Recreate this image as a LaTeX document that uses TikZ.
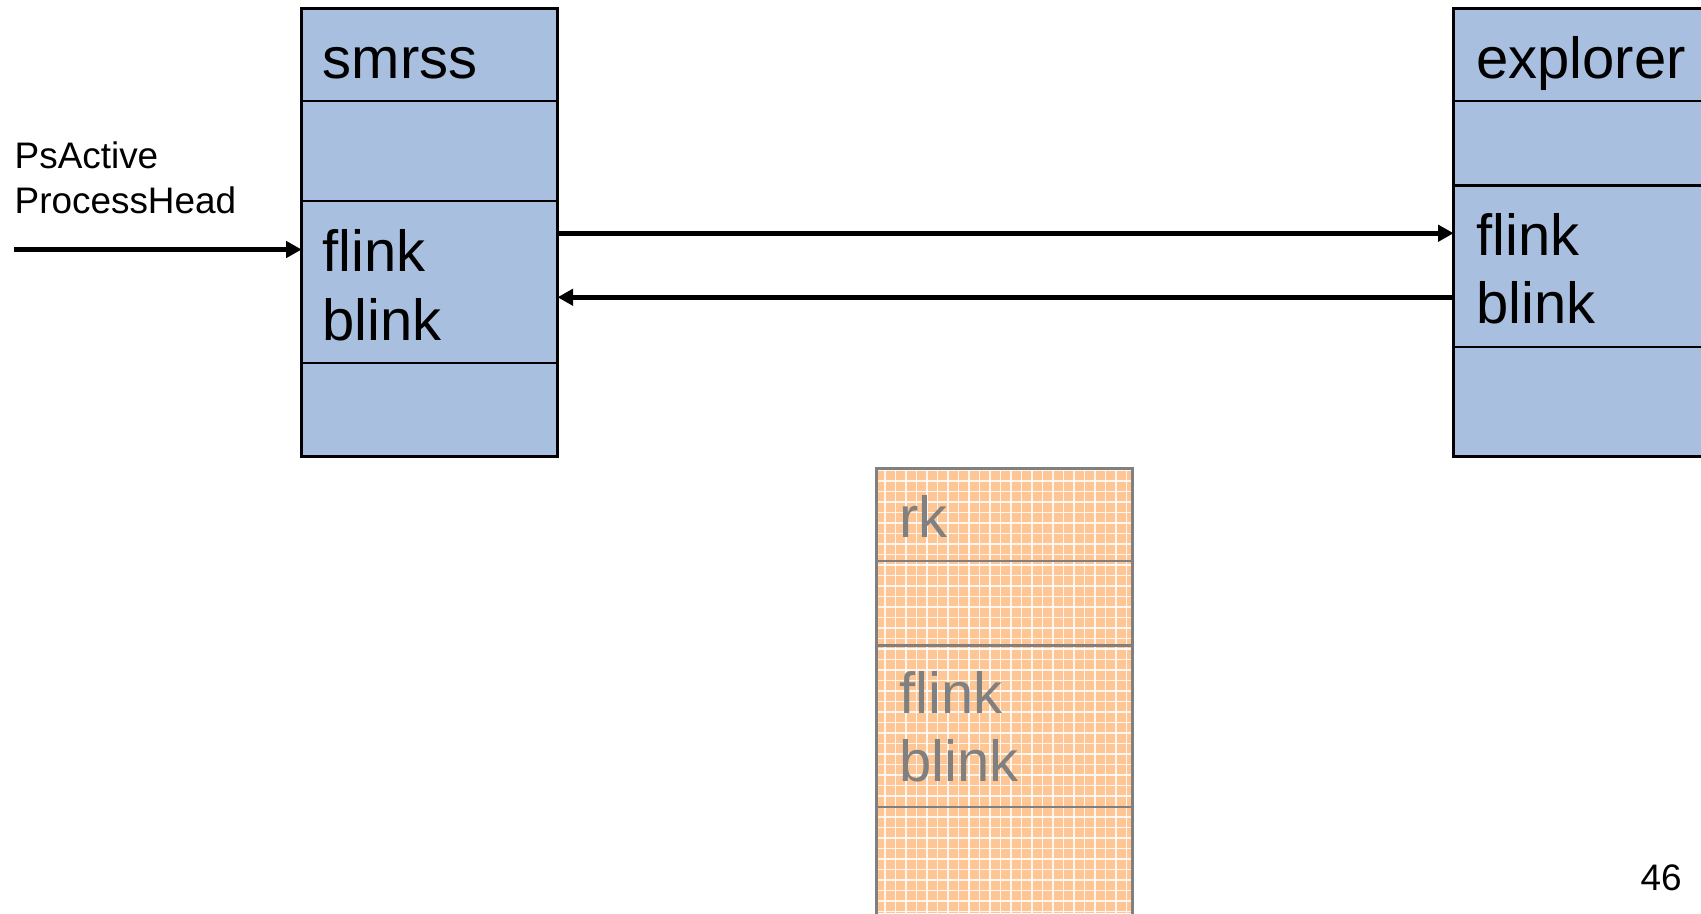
\documentclass[tikz,border=0pt]{standalone}
\usepackage{fontspec}
\setmainfont{Liberation Sans}
\usepackage{xcolor}
\usetikzlibrary{positioning,arrows.meta}
\definecolor{procblue}{RGB}{169,191,223}
\definecolor{procorange}{RGB}{253,198,148}
\definecolor{fadegray}{RGB}{128,128,128}

\begin{document}
\begin{tikzpicture}[x=0.1mm,y=-0.1mm,
  cell/.style={draw, line width=0.6pt, fill=procblue, minimum width=25.6mm, inner sep=0, outer sep=0},
  ghost/.style={draw=fadegray, line width=0.7pt, minimum width=25.6mm, inner sep=0, outer sep=0},
  big/.style={font=\fontsize{16.5}{20}\selectfont, inner sep=0, anchor=base west},
  small/.style={font=\fontsize{10.5}{12.6}\selectfont, inner sep=0, anchor=base west},
  ptr/.style={line width=1.3pt, -{Triangle[length=4.4pt,width=4.6pt]}}]
\useasboundingbox (0,0) rectangle (1701,913);
\clip (0,0) rectangle (1701,913);

% smrss
\node[cell, minimum height=9.22mm, anchor=north west] (s1) at (301.6,8.7) {};
\node[cell, minimum height=9.98mm, below=0pt of s1] (s2) {};
\node[cell, minimum height=16.27mm, below=0pt of s2] (s3) {};
\node[cell, minimum height=9.33mm, below=0pt of s3] (s4) {};
\draw[line width=1pt] (s1.north west) rectangle (s4.south east);
\node[big] (sName) at (322,78) {smrss};
\node[big] (sF) at (322,271) {flink};
\node[big] (sB) at (322,340) {blink};

% explorer, runs off the right edge
\node[cell, minimum height=9.22mm, anchor=north west] (e1) at (1453.6,8.7) {};
\node[cell, minimum height=8.46mm, below=0pt of e1] (e2) {};
\node[cell, minimum height=16.15mm, below=0pt of e2] (e3) {};
\node[cell, minimum height=10.97mm, below=0pt of e3] (e4) {};
\draw[line width=1pt] (e1.north west) rectangle (e4.south east);
\node[big] (eName) at (1475.5,78) {explorer};
\node[big] (eF) at (1475.5,255) {flink};
\node[big] (eB) at (1475.5,323) {blink};

% rk, faded out
\fill[procorange] (876.5,468.7) rectangle (1132.5,913);
\foreach \gx in {885,895.5,...,1130}
  \draw[white, line width=0.3pt, opacity=0.85] (\gx,468.7) -- (\gx,913);
\foreach \gy in {470.5,481,...,913}
  \draw[white, line width=0.3pt, opacity=0.85] (876.5,\gy) -- (1132.5,\gy);
\node[ghost, minimum height=9.23mm, anchor=north west] (r1) at (876.5,468.7) {};
\node[ghost, minimum height=8.45mm, below=0pt of r1] (r2) {};
\node[ghost, minimum height=16.15mm, below=0pt of r2] (r3) {};
\node[ghost, minimum height=14mm, below=0pt of r3] (r4) {};
\node[big, text=fadegray] (rName) at (898.5,537) {rk};
\node[big, text=fadegray] (rF) at (898.5,713) {flink};
\node[big, text=fadegray] (rB) at (898.5,781) {blink};

% list head
\node[small] (hd1) at (14,168) {PsActive};
\node[small] (hd2) at (14,213) {ProcessHead};
\coordinate (hd) at (14,249.5);
\draw[ptr] (hd) -- (hd -| s3.west);

% links
\coordinate (fe) at ([yshift=3.3mm]e3.west);
\coordinate (be) at ([yshift=-3.1mm]e3.west);
\draw[ptr] (fe -| s3.east) -- (fe);
\draw[ptr] (be) -- (be -| s3.east);

\node[small] (pg) at (1640,890) {46};
\end{tikzpicture}
\end{document}
